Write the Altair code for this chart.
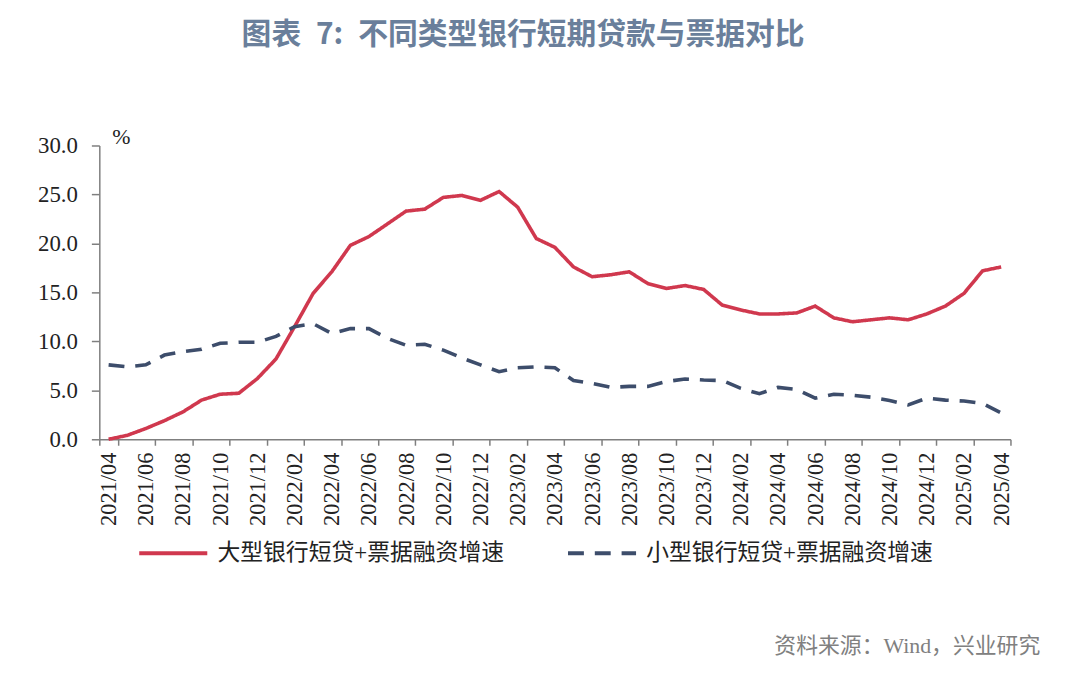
import altair as alt
import pandas as pd

months = [f"{y}/{m:02d}" for y in range(2021, 2026) for m in range(1, 13)]
months = months[months.index("2021/04"):months.index("2025/04") + 1]

large = [0.0, 0.4, 1.1, 1.9, 2.8, 4.0, 4.6, 4.7, 6.2, 8.2, 11.5, 14.9, 17.1, 19.8, 20.7, 22.0, 23.3, 23.5,
         24.7, 24.9, 24.4, 25.3, 23.7, 20.5, 19.6, 17.6, 16.6, 16.8, 17.1, 15.9, 15.4, 15.7, 15.3, 13.7,
         13.2, 12.8, 12.8, 12.9, 13.6, 12.4, 12.0, 12.2, 12.4, 12.2, 12.8, 13.6, 14.9, 17.2, 17.6]
small = [7.6, 7.4, 7.6, 8.6, 8.95, 9.2, 9.8, 9.9, 9.9, 10.5, 11.5, 11.8, 10.8, 11.3, 11.3, 10.3, 9.6, 9.7,
         9.1, 8.3, 7.6, 6.9, 7.3, 7.4, 7.3, 6.0, 5.7, 5.3, 5.4, 5.4, 5.9, 6.15, 6.05, 6.0, 5.2, 4.65,
         5.3, 5.1, 4.2, 4.6, 4.5, 4.3, 3.95, 3.5, 4.2, 4.0, 3.9, 3.65, 2.7]

s1 = "大型银行短贷+票据融资增速"
s2 = "小型银行短贷+票据融资增速"
tick_labels = months[::2]

df = pd.concat([
    pd.DataFrame({"month": months, "value": large, "series": s1}),
    pd.DataFrame({"month": months, "value": small, "series": s2}),
])

serif = "Liberation Serif, Noto Sans CJK SC"

lines = alt.Chart(df).mark_line(strokeWidth=3.6).encode(
    x=alt.X("month:O", sort=months, title=None,
            scale=alt.Scale(type="band", paddingInner=0, paddingOuter=0),
            axis=alt.Axis(values=tick_labels, labelAngle=270, labelAlign="right", labelBaseline="middle",
                          tickBand="extent", tickSize=6, labelPadding=7,
                          labelFont=serif, labelFontSize=22.5, labelColor="#222222",
                          domainColor="#7f7f7f", tickColor="#7f7f7f", domainWidth=1.5, tickWidth=1.5)),
    y=alt.Y("value:Q", title=None,
            scale=alt.Scale(domain=[0, 30], nice=False),
            axis=alt.Axis(values=[0, 5, 10, 15, 20, 25, 30], format=".1f", grid=False,
                          tickSize=8, labelPadding=14, labelFont=serif, labelFontSize=23,
                          labelColor="#222222", domainColor="#7f7f7f", tickColor="#7f7f7f",
                          domainWidth=1.5, tickWidth=1.5)),
    color=alt.Color("series:N", sort=[s1, s2],
                    scale=alt.Scale(domain=[s1, s2], range=["#d0384e", "#3d4d6b"]),
                    legend=alt.Legend(title=None, orient="none", legendX=38, legendY=374,
                                      direction="horizontal", symbolType="stroke", symbolSize=4700,
                                      symbolStrokeWidth=4, labelFont=serif, labelFontSize=23,
                                      labelColor="#222222", labelLimit=500, columnPadding=56,
                                      labelOffset=8, padding=0)),
    strokeDash=alt.StrokeDash("series:N", sort=[s1, s2],
                              scale=alt.Scale(domain=[s1, s2], range=[[1, 0], [16, 11]]),
                              legend=None),
)

unit = alt.Chart(pd.DataFrame({"t": ["%"]})).mark_text(
    font=serif, fontSize=22, color="#222222", align="left", baseline="bottom"
).encode(text="t:N", x=alt.value(13), y=alt.value(3))

source = alt.Chart(pd.DataFrame({"t": ["资料来源：Wind，兴业研究"]})).mark_text(
    font=serif, fontSize=22, color="#808080", align="right", baseline="middle"
).encode(text="t:N", x=alt.value(948), y=alt.value(504))

chart = alt.layer(lines, unit, source).properties(
    width=918, height=296,
    autosize=alt.AutoSizeParams(type="none"),
    padding={"left": 92, "top": 136, "right": 62, "bottom": 239},
    title=alt.TitleParams(text="图表\u20027:\u2002不同类型银行短期贷款与票据对比", font="Noto Sans CJK SC",
                          fontSize=30, fontWeight="bold", color="#6a7f9b", anchor="middle",
                          dx=-32, offset=76),
).configure(background="white").configure_view(stroke=None)

chart.save("out.html", embed_options={"renderer": "svg", "actions": False})
